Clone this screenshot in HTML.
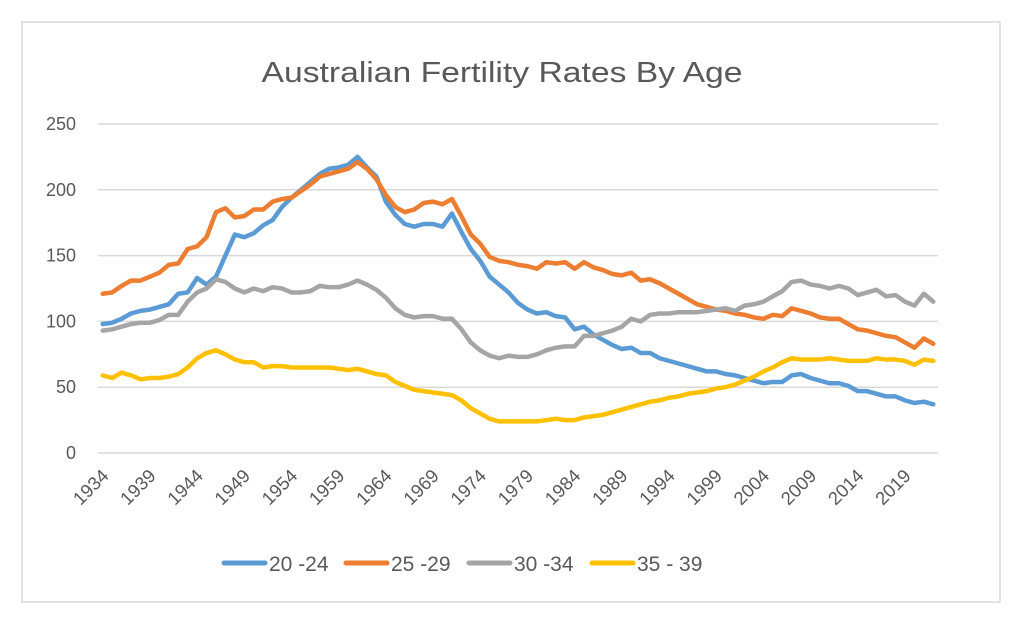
<!DOCTYPE html>
<html><head><meta charset="utf-8"><style>
html,body{margin:0;padding:0;background:#fff;}
svg{display:block;font-family:"Liberation Sans",sans-serif;}
</style></head><body>
<svg id="chart" width="1012" height="626" viewBox="0 0 1012 626">
<rect x="22" y="22" width="978" height="580" fill="#fff" stroke="#d9d9d9" stroke-width="1.5"/>
<text x="502" y="82" text-anchor="middle" font-size="29" fill="#595959" textLength="481" lengthAdjust="spacingAndGlyphs">Australian Fertility Rates By Age</text>
<g id="grid"></g><g id="ylabels"></g><g id="xlabels"></g><g id="series"></g><g id="legend"></g>
</svg>
<script>
const startYear = 1934;
const yTicks = [0,50,100,150,200,250];
const seriesNames = ["20 -24","25 -29","30 -34","35 - 39"];
const seriesColors = ["#5B9BD5","#ED7D31","#A5A5A5","#FFC000"];
const s2024 = [98,99,102,106,108,109,111,113,121,122,133,128,134,150,166,164,167,173,177,187,194,200,206,212,216,217,219,225,
217,210,191,181,174,172,174,174,172,182,168,155,146,134,128,122,114,109,106,107,104,103,94,96,90,86,82,79,80,76,
76,72,70,68,66,64,62,62,60,59,57,55,53,54,54,59,60,57,55,53,53,51,47,47,45,43,43,40,38,39,37];
const s2529 = [121,122,127,131,131,134,137,143,144,155,157,164,183,186,179,180,185,185,191,193,194,199,204,210,212,214,216,221,
216,208,196,187,183,185,190,191,189,193,180,166,159,149,146,145,143,142,140,145,144,145,140,145,141,139,136,135,137,131,
132,129,125,121,117,113,111,109,108,106,105,103,102,105,104,110,108,106,103,102,102,98,94,93,91,89,88,84,80,87,83];
const s3034 = [93,94,96,98,99,99,101,105,105,115,122,125,132,130,125,122,125,123,126,125,122,122,123,127,126,126,128,131,
128,124,118,110,105,103,104,104,102,102,94,84,78,74,72,74,73,73,75,78,80,81,81,89,89,91,93,96,102,100,
105,106,106,107,107,107,108,109,110,108,112,113,115,119,123,130,131,128,127,125,127,125,120,122,124,119,120,115,112,121,115];
const s3539 = [59,57,61,59,56,57,57,58,60,65,72,76,78,75,71,69,69,65,66,66,65,65,65,65,65,64,63,64,
62,60,59,54,51,48,47,46,45,44,40,34,30,26,24,24,24,24,24,25,26,25,25,27,28,29,31,33,35,37,
39,40,42,43,45,46,47,49,50,52,55,58,62,65,69,72,71,71,71,72,71,70,70,70,72,71,71,70,67,71,70];
const allSeries = [s2024,s2529,s3034,s3539];

const NS="http://www.w3.org/2000/svg";
const plotL=98, plotR=938, y0=453, y250=124;
const n = s2024.length;
const step=(plotR-plotL)/n;
function xPos(i){return plotL+step*(i+0.5);}
function yPos(v){return y0-(v/250)*(y0-y250);}
function mk(tag,attrs,parent){const e=document.createElementNS(NS,tag);for(const k in attrs)e.setAttribute(k,attrs[k]);parent.appendChild(e);return e;}

const grid=document.getElementById('grid'), yl=document.getElementById('ylabels');
yTicks.forEach(t=>{
  const l=mk('line',{x1:plotL,x2:plotR,y1:yPos(t),y2:yPos(t),stroke:'#d9d9d9','stroke-width':1.5},grid);
  
  
  const tx=mk('text',{x:76,y:yPos(t)+6,'text-anchor':'end','font-size':18,fill:'#595959'},yl);
  tx.textContent=t;
  
  
});
const xl=document.getElementById('xlabels');
for(let i=0;i<n;i+=5){
  const yr=startYear+i;
  const x=xPos(i)+7;
  const tx=mk('text',{x:x,y:477,'text-anchor':'end','font-size':18.5,fill:'#595959',transform:`rotate(-45 ${x} 477)`},xl);
  tx.textContent=yr;
  
  
}
const sg=document.getElementById('series');
allSeries.forEach((s,k)=>{
  const d=s.map((v,i)=>(i?'L':'M')+xPos(i).toFixed(2)+' '+yPos(v).toFixed(2)).join(' ');
  const p=mk('path',{d:d,fill:'none',stroke:seriesColors[k],'stroke-width':4.5,'stroke-linejoin':'round','stroke-linecap':'round'},sg);
  
  
});
const lg=document.getElementById('legend');
const legX=[222,344,467,590];
seriesNames.forEach((nm,k)=>{
  const g=mk('g',{},lg);
  
  
  mk('line',{x1:legX[k]+2,x2:legX[k]+43,y1:563,y2:563,stroke:seriesColors[k],'stroke-width':5,'stroke-linecap':'round'},g);
  const t=mk('text',{x:legX[k]+47,y:571,'font-size':21,fill:'#595959'},g);
  t.textContent=nm;
});
</script>
</body></html>
